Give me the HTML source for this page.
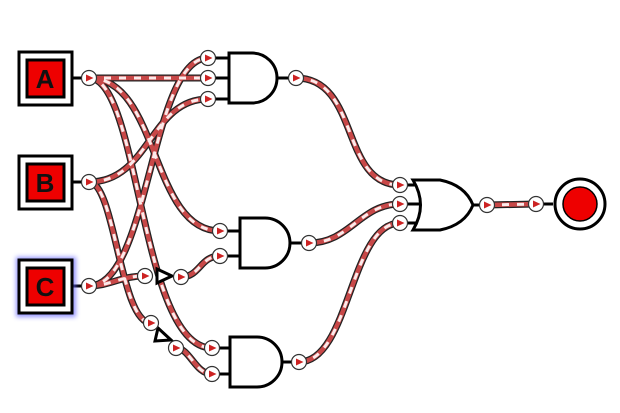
<!DOCTYPE html>
<html><head><style>body{margin:0;background:#fff}svg{display:block}</style></head><body>
<svg width="620" height="413" viewBox="0 0 620 413" xmlns="http://www.w3.org/2000/svg">
<defs>
<filter id="glow" x="-30%" y="-30%" width="160%" height="160%"><feGaussianBlur stdDeviation="2.5"/></filter>
<g id="port"><circle r="7.5" fill="#fff" stroke="#333" stroke-width="1.2"/><path d="M-3,-3.5 L4.5,0 L-3,3.5Z" fill="#c22"/></g>
</defs>
<g fill="none" stroke-linecap="round">
<g id="wires">
<path d="M89,78 L208,78"/>
<path d="M89,78 C160,78 150,231 220,231"/>
<path d="M89,78 C140,78 140,348 212,348"/>
<path d="M89,182 C150,182 150,99 208,99"/>
<path d="M89,182 C115,182 120,323 151,323"/>
<path d="M89,286 C150,286 150,58 208,58"/>
<path d="M89,286 C110,286 120,276 145,276"/>
<path d="M181,277 C200,277 200,256 220,256"/>
<path d="M176,348 C190,348 195,374 212,374"/>
<path d="M296,78 C360,78 340,185 400,185"/>
<path d="M309,243 C350,243 360,204 400,204"/>
<path d="M299,362 C350,362 350,223 400,223"/>
<path d="M487,205 L536,204"/>
</g>
</g>
<use href="#wires" stroke="#222" stroke-width="7" fill="none"/>
<use href="#wires" stroke="#c84848" stroke-width="4.5" fill="none"/>
<use href="#wires" stroke="#fbeaea" stroke-width="3" stroke-dasharray="7 8" fill="none"/>
<g stroke="#000" stroke-width="3">
<line x1="72" y1="78" x2="89" y2="78"/><line x1="72" y1="182" x2="89" y2="182"/><line x1="72" y1="286" x2="89" y2="286"/>
</g>
<rect x="16" y="257" width="60" height="60" fill="#66f" filter="url(#glow)" opacity="0.7"/>
<g stroke="#000" stroke-width="3">
<rect x="19" y="52" width="53" height="53" fill="#fff"/><rect x="27" y="60" width="37" height="37" fill="#e00"/>
<rect x="19" y="156" width="53" height="53" fill="#fff"/><rect x="27" y="164" width="37" height="37" fill="#e00"/>
<rect x="19" y="260" width="53" height="53" fill="#fff"/><rect x="27" y="268" width="37" height="37" fill="#e00"/>
</g>
<g font-family="Liberation Sans, sans-serif" font-weight="bold" font-size="26" text-anchor="middle" fill="#111">
<text x="45" y="88">A</text><text x="45" y="192">B</text><text x="45" y="296">C</text>
</g>
<g stroke="#000" stroke-width="3" fill="#fff">
<path d="M215,58H229M215,78H229M215,99H229M277,78H290"/>
<path d="M229,53H252A25,25 0 0 1 252,103H229Z"/>
<path d="M227,231H240M227,256H240M290,243H302"/>
<path d="M240,218H265A25,25 0 0 1 265,268H240Z"/>
<path d="M219,348H230M219,374H230M282,362H292"/>
<path d="M230,337H257A25,25 0 0 1 257,387H230Z"/>
<path d="M407,185H420M407,204H423M407,223H420M472,205H480"/>
<path d="M413,180H440Q465,185 473,205Q465,225 440,230H413Q428,205 413,180Z"/>
<path d="M543,204H553"/>
<path d="M157,269L172,276L157,283Z" fill="#fff"/>
<path d="M158,328L171,340L155,341Z" fill="#fff"/>
</g>
<circle cx="580" cy="204" r="25" fill="#fff" stroke="#000" stroke-width="3"/>
<circle cx="580" cy="204" r="17" fill="#e00" stroke="#000" stroke-width="1.5"/>
<use href="#port" x="89" y="78"/><use href="#port" x="89" y="182"/><use href="#port" x="89" y="286"/>
<use href="#port" x="208" y="58"/><use href="#port" x="208" y="78"/><use href="#port" x="208" y="99"/>
<use href="#port" x="296" y="78"/>
<use href="#port" x="220" y="231"/><use href="#port" x="220" y="256"/><use href="#port" x="309" y="243"/>
<use href="#port" x="212" y="348"/><use href="#port" x="212" y="374"/><use href="#port" x="299" y="362"/>
<use href="#port" x="145" y="276"/><use href="#port" x="181" y="277"/>
<use href="#port" x="151" y="323"/><use href="#port" x="176" y="348"/>
<use href="#port" x="400" y="185"/><use href="#port" x="400" y="204"/><use href="#port" x="400" y="223"/>
<use href="#port" x="487" y="205"/><use href="#port" x="536" y="204"/>
</svg>
</body></html>
